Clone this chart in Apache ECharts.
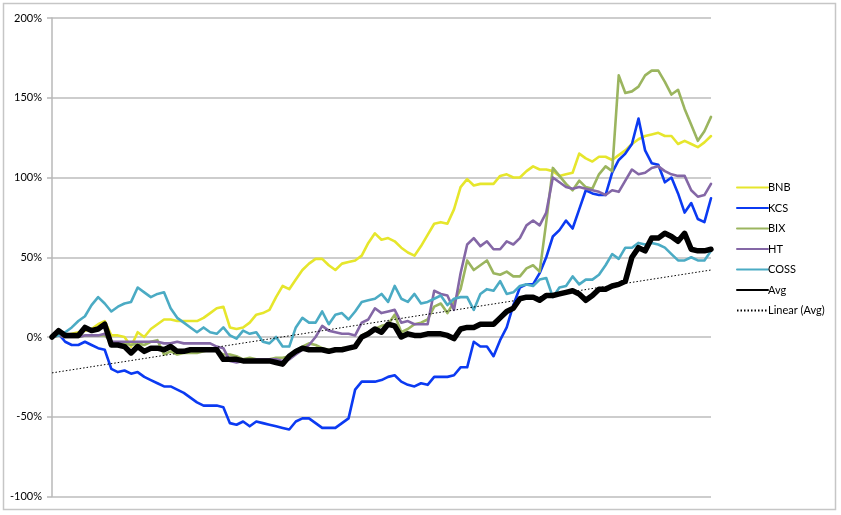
<!DOCTYPE html>
<html>
<head>
<meta charset="utf-8">
<script src="https://cdn.jsdelivr.net/npm/echarts@6/dist/echarts.min.js"></script>
<style>
html,body{margin:0;padding:0;background:#fff;}
#chart{width:841px;height:515px;}
</style>
</head>
<body>
<div id="chart"></div>
<script>
var seriesNames = ['BNB', 'KCS', 'BIX', 'HT', 'COSS', 'Avg'];
var trendName = 'Linear (Avg)';
var yTicks = [-100, -50, 0, 50, 100, 150, 200];

var BNB = [0,1,1,2,3,4,5,8,10,1,1,0,-6,3,0,5,8,11,11,10,10,10,10,12,15,18,19,6,5,6,9,14,15,17,25,32,30,36,42,46,49,49,45,42,46,47,48,51,59,65,61,62,60,56,53,51,57,64,71,72,71,80,94,99,95,96,96,96,101,102,100,100,104,107,105,105,104,101,102,103,115,112,110,113,113,111,114,117,121,124,126,127,128,126,126,121,123,121,119,122,126];
var KCS = [0,2,-3,-5,-5,-3,-5,-7,-8,-20,-22,-21,-23,-22,-25,-27,-29,-31,-31,-33,-35,-38,-41,-43,-43,-43,-44,-54,-55,-53,-56,-53,-54,-55,-56,-57,-58,-53,-51,-51,-54,-57,-57,-57,-54,-51,-33,-28,-28,-28,-27,-25,-24,-28,-30,-31,-29,-30,-25,-25,-25,-24,-19,-19,-3,-6,-6,-12,-2,6,20,31,33,33,40,50,63,67,73,68,80,92,90,89,89,103,111,115,121,137,117,109,108,97,100,90,78,84,74,72,87];
var BIX = [0,1,0,0,0,1,1,1,1,-3,-4,-4,-5,-4,-5,-3,-2,-11,-9,-11,-10,-10,-10,-9,-8,-9,-11,-11,-12,-14,-13,-14,-14,-14,-13,-13,-12,-9,-6,-4,-5,-7,-8,-8,-7,-7,-6,1,3,5,7,8,14,3,5,8,9,11,19,21,15,22,30,48,42,45,48,40,39,41,38,38,43,45,41,72,106,101,96,92,98,94,93,102,107,104,164,153,154,157,164,167,167,160,152,155,143,133,123,129,138];
var HT = [0,1,0,0,0,1,1,1,2,-3,-3,-3,-3,-3,-3,-3,-3,-4,-4,-3,-4,-4,-4,-4,-4,-6,-7,-15,-16,-15,-15,-14,-14,-14,-14,-15,-14,-11,-8,-5,0,7,4,3,2,2,1,9,11,18,15,16,17,9,10,8,8,8,29,27,26,17,40,58,62,57,60,55,55,60,58,62,70,73,70,78,100,97,94,93,94,93,92,91,89,92,91,98,105,102,103,106,107,104,102,101,101,92,88,89,96];
var COSS = [0,1,3,6,10,13,20,25,21,16,19,21,22,31,28,25,27,28,18,12,9,6,3,6,3,2,6,1,-1,4,2,3,-3,-4,0,-6,-6,6,12,9,9,16,8,14,15,11,16,22,23,24,27,22,32,24,22,27,21,22,24,26,20,24,25,25,17,27,30,29,35,27,28,32,33,32,36,37,25,31,32,38,33,36,36,39,45,52,49,56,56,59,58,59,58,56,52,48,48,50,48,48,54];
var Avg = [0,4,1,1,1,6,4,5,8,-5,-5,-6,-10,-6,-9,-7,-7,-8,-6,-9,-9,-8,-8,-8,-8,-8,-14,-14,-14,-15,-15,-15,-15,-15,-16,-17,-12,-9,-7,-8,-8,-8,-9,-8,-8,-7,-6,0,2,5,3,8,7,0,2,1,1,2,2,2,1,-1,5,6,6,8,8,8,12,16,18,24,25,25,23,26,26,27,28,29,27,23,26,30,30,32,33,35,50,56,54,62,62,65,63,60,65,55,54,54,55];
var trendEnds = [-22.5, 42];

var categories = [];
for (var i = 0; i < Avg.length; i++) categories.push(String(i + 1));

var colors = {BNB:'#e6e62c', KCS:'#0b3af2', BIX:'#9bb55f', HT:'#8467a6', COSS:'#4babc4', Avg:'#000000'};
var dataMap = {BNB:BNB, KCS:KCS, BIX:BIX, HT:HT, COSS:COSS, Avg:Avg};

var series = seriesNames.map(function (n) {
  var isAvg = n === 'Avg';
  return {
    name: n, type: 'line', data: dataMap[n], symbol: 'none', showSymbol: false,
    lineStyle: {color: colors[n], width: isAvg ? 5.5 : 2.6, join: 'round', cap: 'round'},
    itemStyle: {color: colors[n]},
    z: isAvg ? 5 : 2
  };
});
series.push({
  name: trendName, type: 'line', symbol: 'none', showSymbol: false,
  data: [[0, trendEnds[0]], [categories.length - 1, trendEnds[1]]],
  lineStyle: {color: '#000', width: 1, type: [1.5, 2]},
  itemStyle: {color: '#000'},
  z: 6
});

var chart = echarts.init(document.getElementById('chart'), null, {renderer: 'canvas'});
chart.setOption({
  animation: false,
  textStyle: {fontFamily: 'Lato, "Liberation Sans", sans-serif'},
  graphic: [{
    type: 'rect', shape: {x: 3.5, y: 3.5, width: 832, height: 506},
    style: {fill: 'none', stroke: '#c6c6c6', lineWidth: 1.5}, silent: true, z: -1
  }],
  grid: {left: 52, right: 130, top: 18, bottom: 18.5, containLabel: false},
  legend: {
    orient: 'vertical', left: 731, top: 177,
    itemWidth: 31, itemHeight: 14, itemGap: 9.3,
    itemStyle: {opacity: 0, color: 'rgba(0,0,0,0)', borderWidth: 0},
    data: seriesNames.concat([trendName]),
    textStyle: {fontSize: 11, color: '#000', fontFamily: 'Lato, "Liberation Sans", sans-serif', padding: [0,0,0,-5]}
  },
  xAxis: {
    type: 'category', data: categories, boundaryGap: false,
    axisLine: {show: false}, axisTick: {show: false}, axisLabel: {show: false}, splitLine: {show: false}
  },
  yAxis: {
    type: 'value', min: yTicks[0], max: yTicks[yTicks.length - 1], interval: 50,
    axisLine: {show: true, lineStyle: {color: '#b8b8b8', width: 1.5}},
    axisTick: {show: true, length: 5, lineStyle: {color: '#b8b8b8', width: 1.5}},
    axisLabel: {formatter: '{value}%', fontSize: 11, color: '#000', margin: 10},
    splitLine: {show: true, lineStyle: {color: '#bcbcbc', width: 1.5}}
  },
  series: series
});
</script>
</body>
</html>
